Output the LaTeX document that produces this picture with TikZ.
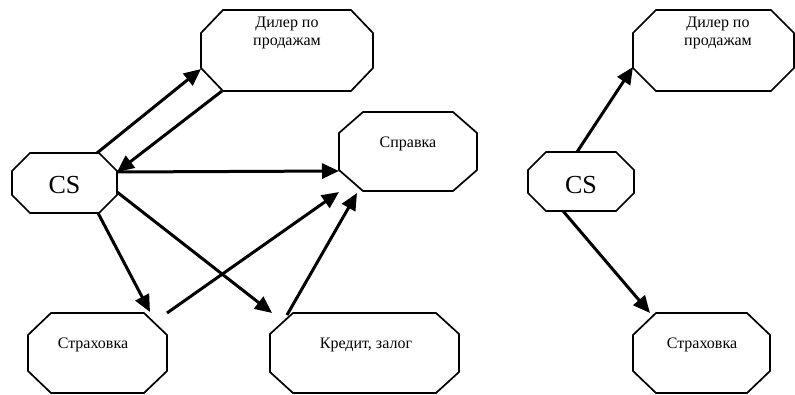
\documentclass[tikz,border=0pt]{standalone}
\usepackage{fontspec}
\setmainfont{Liberation Serif}
\usetikzlibrary{arrows.meta}
\tikzset{
  boxn/.style={draw=none, inner sep=0pt, outer sep=0pt, minimum width=#1},
  boxline/.style={line width=1.7pt, line join=miter},
  txt/.style={anchor=base, inner sep=0pt, font=\fontsize{16}{18}\selectfont, align=center},
  big/.style={anchor=base, inner sep=0pt, font=\fontsize{26}{28}\selectfont},
  arr/.style={line width=3pt, -{Triangle[length=17pt,width=15pt]}, shorten >=0pt}
}
\newcommand{\octo}[3]{% name, horizontal cut, vertical cut
  \draw[boxline] ([xshift=#2]#1.north west) -- ([xshift=-#2]#1.north east)
    -- ([yshift=-#3]#1.north east) -- ([yshift=#3]#1.south east)
    -- ([xshift=-#2]#1.south east) -- ([xshift=#2]#1.south west)
    -- ([yshift=#3]#1.south west) -- ([yshift=-#3]#1.north west) -- cycle;}
\begin{document}
\begin{tikzpicture}[x=1pt,y=-1pt]
\useasboundingbox (0,0) rectangle (795,394);
% boxes (left panel)
\node[boxn=172pt, minimum height=81pt] (dealer) at (287,50.5) {};
\node[boxn=138pt, minimum height=79pt] (spravka) at (408,151.5) {};
\node[boxn=105pt, minimum height=60pt] (cs) at (64.5,183) {};
\node[boxn=139pt, minimum height=80pt] (strakh) at (97.5,353) {};
\node[boxn=189pt, minimum height=80pt] (kredit) at (364.5,353) {};
% boxes (right panel)
\node[boxn=161pt, minimum height=81pt] (dealerB) at (713.5,50.5) {};
\node[boxn=106pt, minimum height=59pt] (csB) at (581,181.5) {};
\node[boxn=137pt, minimum height=80pt] (strakhB) at (701.5,353) {};
\octo{dealer}{22pt}{23pt}
\octo{spravka}{24pt}{21pt}
\octo{cs}{18pt}{18pt}
\octo{strakh}{23pt}{22pt}
\octo{kredit}{23pt}{21pt}
\octo{dealerB}{23pt}{23pt}
\octo{csB}{18pt}{18pt}
\octo{strakhB}{23pt}{22pt}
% texts
\node[txt] (dealerT) at (287,45) {Дилер по\\продажам};
\node[txt] (spravkaT) at (408,147) {Справка};
\node[big] (csT) at (64.5,193) {CS};
\node[txt] (strakhT) at (93,348) {Страховка};
\node[txt] (kreditT) at (366,348) {Кредит, залог};
\node[txt] (dealerBT) at (718,45) {Дилер по\\продажам};
\node[big] (csBT) at (581,193) {CS};
\node[txt] (strakhBT) at (702,348) {Страховка};
% arrows (left panel)
\draw[arr] ([xshift=-20pt]cs.north east) -- ([yshift=22pt]dealer.south west);
\draw[arr] ([xshift=21pt]dealer.south west) -- ([yshift=-19pt]cs.north east);
\draw[arr] ([yshift=-19pt]cs.north east) -- ([yshift=20pt]spravka.south west);
\draw[arr] ([yshift=21pt]cs.south east) -- ([xshift=2pt]kredit.north west);
\draw[arr] ([xshift=-19pt]cs.south east) -- ([xshift=-17pt,yshift=1pt]strakh.north east);
\draw[arr] (strakh.north east) -- ([yshift=-1pt]spravka.south west);
\draw[arr] ([xshift=17pt,yshift=-2pt]kredit.north west) -- ([xshift=18pt,yshift=-2pt]spravka.south west);
% arrows (right panel)
\draw[arr] ([xshift=-4pt]csB.north) -- ([yshift=24pt]dealerB.south west);
\draw[arr] ([xshift=-18pt]csB.south) -- ([xshift=17pt]strakhB.north west);
\end{tikzpicture}
\end{document}
